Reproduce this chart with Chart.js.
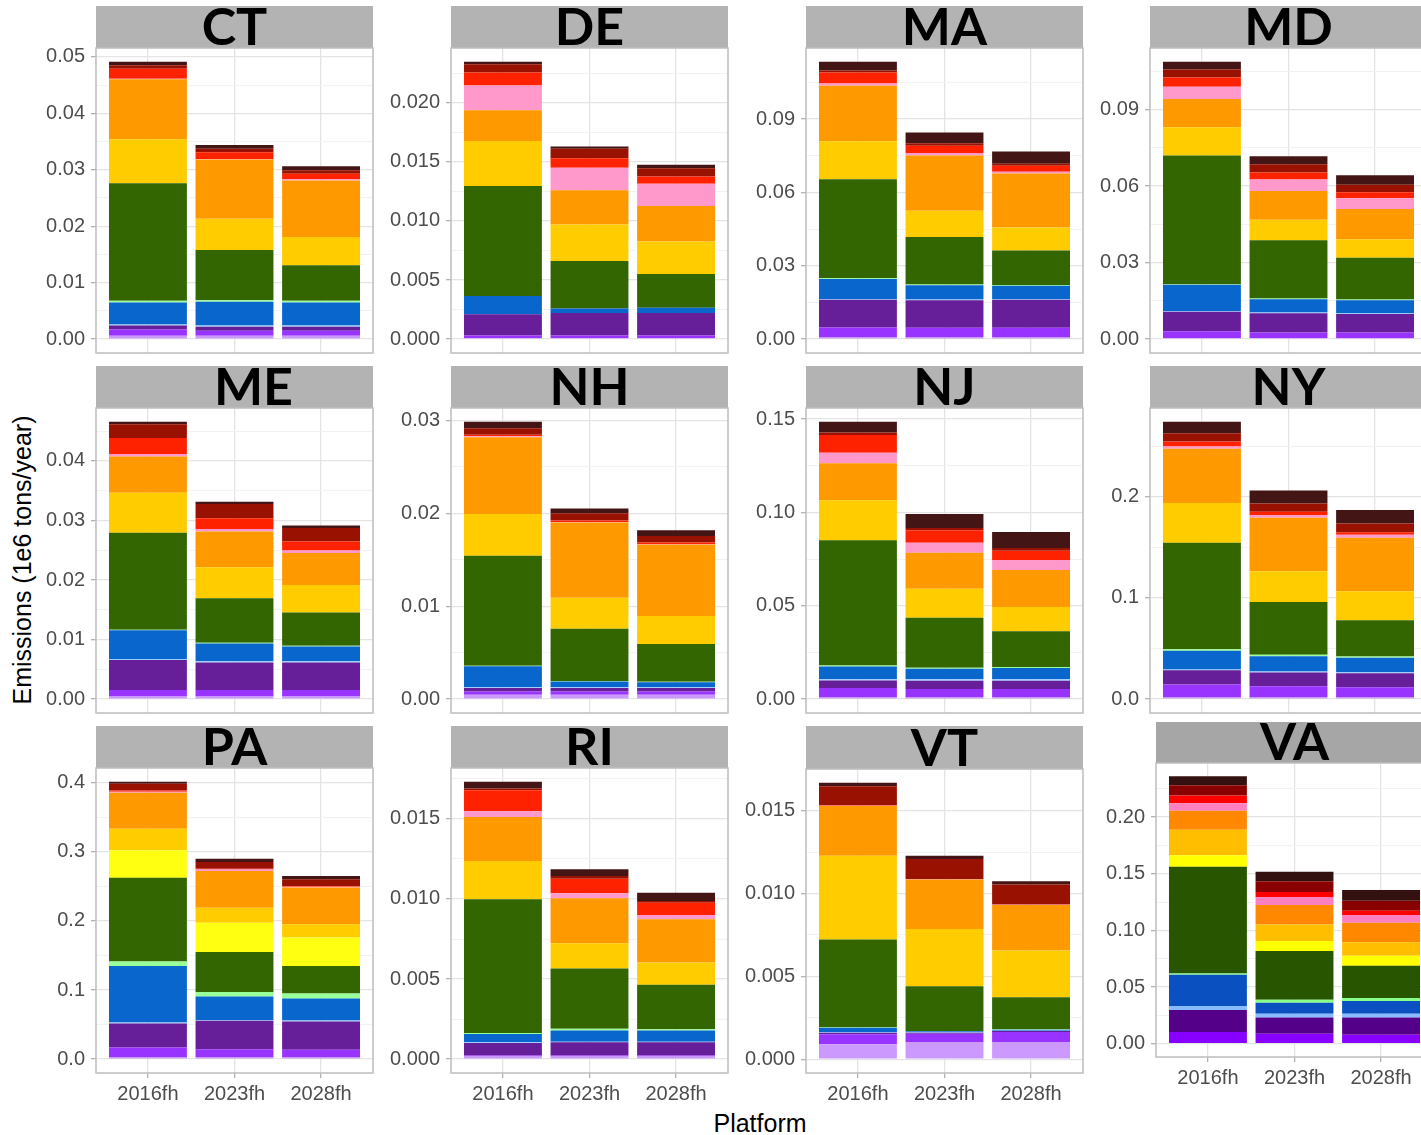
<!DOCTYPE html>
<html>
<head>
<meta charset="utf-8">
<script src="https://cdn.jsdelivr.net/npm/chart.js@4.4.1/dist/chart.umd.min.js"></script>
<style>
  body { margin: 0; width: 1421px; height: 1135px; overflow: hidden; background: #fff; position: relative; font-family: "Liberation Sans", Arial, sans-serif; }
  canvas { position: absolute; }
  .ytitle { position: absolute; left: 22px; top: 560px; transform: translate(-50%, -50%) rotate(-90deg); font-size: 25px; white-space: nowrap; color: #000; }
  .xtitle { position: absolute; left: 760px; top: 1123px; transform: translate(-50%, -50%); font-size: 25px; color: #000; }
</style>
</head>
<body>
<div class="ytitle">Emissions (1e6 tons/year)</div>
<div class="xtitle">Platform</div>
<script>
const platforms = ['2016fh', '2023fh', '2028fh'];
const states = ['CT', 'DE', 'MA', 'MD', 'ME', 'NH', 'NJ', 'NY', 'PA', 'RI', 'VT', 'VA'];

// stack order, bottom to top
const sectors = ['lavender', 'violet', 'purple', 'lightblue', 'blue', 'lightgreen', 'green',
                 'yellow', 'gold', 'orange', 'pink', 'red', 'darkred', 'maroon'];
const sectorColors = ['#cc99ff', '#9933ff', '#661f99', '#99ccff', '#0866cc', '#99ff99', '#336600',
                      '#ffff11', '#ffcc00', '#ff9900', '#ff99cc', '#ff2200', '#991100', '#441515'];
const vaColors = ['#cc99ff', '#8800ff', '#550088', '#88bbff', '#0a50c0', '#88ff88', '#285500',
                  '#ffff00', '#ffbf00', '#ff8800', '#ff80c0', '#ff0000', '#880000', '#331111'];

// one row per platform, values follow the sectors order
const CT = [
  [.0006, .0011, .0007, .0002, .0039, .0003, .0208, 0, .0078, .0106, .0001, .0018, .0006, .0006],
  [.0006, .0009, .0007, .0002, .0042, .0003, .0089, 0, .0055, .0105, .0001, .0012, .0006, .0007],
  [.0006, .0009, .0007, .0002, .0041, .0003, .0063, 0, .0050, .0100, .0002, .0010, .0006, .0007]
];
const DE = [
  [.0001, .0002, .0018, 0, .00155, 0, .0093, 0, .0038, .0026, .0021, .0011, .0007, .0002],
  [.0001, .0002, .0019, 0, .0004, 0, .0040, 0, .0031, .0029, .0019, .0008, .0008, .0002],
  [.0001, .0002, .0019, 0, .00045, 0, .00285, 0, .00275, .0030, .0019, .0006, .0007, .0003]
];
const MA = [
  [.0007, .0041, .0113, .0003, .0082, .0003, .0405, 0, .0155, .0227, .0010, .0045, .0008, .0035],
  [.0007, .0040, .0112, .0003, .0058, .0003, .0195, 0, .0107, .0226, .0010, .0030, .0010, .0044],
  [.0007, .0040, .0114, .0003, .0054, .0003, .0141, 0, .0095, .0220, .0008, .0024, .0008, .0050]
];
const MD = [
  [.0004, .0027, .0076, .0003, .0103, .0002, .0505, 0, .0111, .0110, .0048, .0037, .0031, .0030],
  [.0004, .0022, .0075, .0003, .0052, .0003, .0229, 0, .0080, .0113, .0045, .0027, .0033, .0031],
  [.0004, .0022, .0073, .0003, .0050, .0003, .0164, 0, .0073, .0118, .0042, .0024, .0029, .0037]
];
const ME = [
  [.00045, .0011, .0050, .0002, .0048, .0001, .0163, 0, .0067, .0061, .0004, .0027, .0023, .0004],
  [.00045, .0011, .0046, .0002, .0030, .0001, .0075, 0, .0052, .0060, .0004, .0018, .0024, .0004],
  [.00045, .0011, .0046, .0002, .0025, .0001, .0056, 0, .0046, .0054, .0004, .0015, .0023, .0004]
];
const NH = [
  [.00047, .00036, .00036, .0001, .00226, .00005, .01184, 0, .00449, .00828, .0001, .00015, .00072, .00068],
  [.00047, .00036, .00036, .0001, .00061, .00005, .00563, 0, .00334, .00811, .00005, .00015, .00079, .0005],
  [.00047, .00036, .00036, .0001, .00054, .00005, .00405, 0, .00301, .00772, .00005, .00015, .00072, .00061]
];
const NJ = [
  [.0009, .0050, .0041, .0007, .0068, .0005, .0671, 0, .0214, .0198, .0057, .0095, .0013, .0057],
  [.0009, .0045, .0045, .0007, .0057, .0005, .0268, 0, .0155, .0193, .0054, .0066, .0013, .0075],
  [.0009, .0045, .0045, .0007, .0061, .0005, .0191, 0, .0130, .0198, .0054, .0050, .0014, .0086]
];
const NY = [
  [.0016, .0128, .0142, .0007, .0185, .0016, .1051, 0, .0392, .0537, .0023, .0049, .0082, .0112],
  [.0016, .0112, .0135, .0010, .0152, .0013, .0521, 0, .0306, .0527, .0026, .0033, .0082, .0128],
  [.0016, .0102, .0138, .0010, .0142, .0013, .0359, 0, .0287, .0527, .0030, .0026, .0086, .0132]
];
const PA = [
  [.0024, .0145, .0347, .0014, .0819, .0063, .1214, .0395, .0313, .0520, .0014, .0019, .0096, .0029],
  [.0024, .0120, .0410, .0014, .0337, .0067, .0578, .0424, .0217, .0530, .0024, .0010, .0096, .0048],
  [.0024, .0111, .0410, .0014, .0318, .0072, .0400, .0410, .0193, .0530, .0014, .0010, .0096, .0048]
];
const RI = [
  [.00017, .00005, .00079, .00004, .00052, .00006, .00835, 0, .00239, .00274, .00037, .00131, .0001, .00042],
  [.00017, .00005, .00083, .00004, .00069, .00012, .00376, 0, .00158, .0028, .00031, .00091, .00017, .00042],
  [.00017, .00005, .00083, .00004, .00069, .00008, .00278, 0, .00139, .0027, .00027, .00077, .0001, .00052]
];
const VT = [
  [.0009, .0006, .0001, .00004, .00026, .00002, .0053, 0, .00506, .0030, .00002, .00002, .00116, .0002],
  [.0010, .00054, .00006, .00002, .00006, .00002, .0027, 0, .00346, .00298, .00002, .00002, .0012, .0002],
  [.0010, .00064, .00006, .00002, .00006, .00002, .00194, 0, .00282, .00274, .00002, .00002, .0012, .0002]
];
const VA = [
  [0, .0102, .0196, .0035, .0275, .0012, .0942, .0102, .0225, .0167, .0067, .0067, .0091, .0079],
  [0, .0088, .0143, .0032, .0099, .0026, .0430, .0088, .0146, .0173, .0070, .0044, .0094, .0085],
  [0, .0079, .0152, .0032, .0114, .0026, .0284, .0088, .0120, .0173, .0067, .0038, .0088, .0096]
];

// y axis break spacing and label decimals, per state (same order as states)
const yStep = [0.01, 0.005, 0.03, 0.03, 0.01, 0.01, 0.05, 0.1, 0.1, 0.005, 0.005, 0.05];
const yDigits = [2, 3, 2, 2, 2, 2, 2, 1, 1, 3, 3, 2];

const stateData = { CT, DE, MA, MD, ME, NH, NJ, NY, PA, RI, VT, VA };

// where each facet sits on the page (plot-area left, strip top)
const panelPos = [
  { x: 96, y: 6, sh: 42, ph: 305 }, { x: 451, y: 6, sh: 42, ph: 305 },
  { x: 806, y: 6, sh: 42, ph: 305 }, { x: 1150, y: 6, sh: 42, ph: 305 },
  { x: 96, y: 366, sh: 42, ph: 305, dx: 19 }, { x: 451, y: 366, sh: 42, ph: 305 },
  { x: 806, y: 366, sh: 42, ph: 305 }, { x: 1150, y: 366, sh: 42, ph: 305 },
  { x: 96, y: 726, sh: 42, ph: 305, bottom: true }, { x: 451, y: 726, sh: 42, ph: 305, bottom: true },
  { x: 806, y: 726, sh: 43, ph: 304, bottom: true }, { x: 1156, y: 722, sh: 41, ph: 294, bottom: true, strip: '#a6a6a6' }
];

const AXIS_W = 80;
const PLOT_W = 277;
const tickFont = { family: '"Liberation Sans", Arial, sans-serif', size: 20 };

Chart.defaults.font.family = '"Liberation Sans", Arial, sans-serif';

const stripPlugin = {
  id: 'strip',
  afterDraw(chart, args, o) {
    const { ctx, chartArea: a } = chart;
    ctx.save();
    ctx.fillStyle = o.fill;
    ctx.fillRect(a.left, a.top - o.h, a.right - a.left, o.h);
    ctx.strokeStyle = '#bdbdbd';
    ctx.lineWidth = 1.5;
    ctx.strokeRect(a.left, a.top, a.right - a.left, a.bottom - a.top);
    ctx.fillStyle = '#000';
    ctx.font = 'bold 52px Lato, "Liberation Sans", sans-serif';
    ctx.textAlign = 'center';
    ctx.textBaseline = 'alphabetic';
    ctx.fillText(o.text, (a.left + a.right) / 2 + (o.dx || 0), a.top - 3);
    ctx.restore();
  }
};

function makePanel(i) {
  const st = states[i];
  const rows = stateData[st];
  const pos = panelPos[i];
  const bottom = !!pos.bottom;
  const pal = st === 'VA' ? vaColors : sectorColors;

  const W = AXIS_W + PLOT_W + 2;
  const H = pos.sh + pos.ph + (bottom ? 50 : 2);
  const cv = document.createElement('canvas');
  cv.width = W; cv.height = H;
  cv.style.left = (pos.x - AXIS_W) + 'px';
  cv.style.top = pos.y + 'px';
  cv.style.width = W + 'px'; cv.style.height = H + 'px';
  document.body.appendChild(cv);

  const totals = rows.map(r => r.reduce((a, b) => a + b, 0));
  const top = Math.max(...totals);
  const yMin = -0.05 * top, yMax = 1.05 * top;
  const step = yStep[i];

  const yTicks = [];
  for (let k = 0; k * step <= yMax + 1e-12; k++) {
    yTicks.push({ value: +(k * step).toFixed(6) });
    const m = +((k + 0.5) * step).toFixed(6);
    if (m <= yMax) yTicks.push({ value: m, minor: true });
  }

  new Chart(cv, {
    type: 'bar',
    data: {
      datasets: sectors.map((name, k) => ({
        label: name,
        data: platforms.map((p, j) => ({ x: j + 1, y: rows[j][k] })),
        backgroundColor: pal[k],
        borderWidth: 0,
        stack: 'all',
        barPercentage: 0.9,
        categoryPercentage: 1
      }))
    },
    options: {
      responsive: false,
      animation: false,
      devicePixelRatio: 1,
      layout: { padding: { top: pos.sh, right: 2, bottom: bottom ? 0 : 2, left: 0 } },
      plugins: {
        legend: { display: false },
        tooltip: { enabled: false },
        strip: { text: st, h: pos.sh, fill: pos.strip || '#b3b3b3', dx: pos.dx || 0 }
      },
      scales: {
        x: {
          type: 'linear', min: 0.4, max: 3.6, offset: false,
          afterBuildTicks: s => { s.ticks = platforms.map((p, j) => ({ value: j + 1 })); },
          afterFit: s => { s.height = bottom ? 50 : 0; s.paddingLeft = 0; s.paddingRight = 0; },
          border: { display: false },
          grid: { offset: false, color: '#e4e4e4', lineWidth: 1.3, drawTicks: bottom, tickLength: 5, tickColor: '#b3b3b3', tickWidth: 1.3 },
          ticks: {
            display: bottom, autoSkip: false, maxRotation: 0, padding: 4,
            color: '#4d4d4d', font: tickFont,
            callback: v => platforms[Math.round(v) - 1]
          }
        },
        y: {
          stacked: true, min: yMin, max: yMax,
          afterBuildTicks: s => { s.ticks = yTicks.map(t => ({ ...t })); },
          afterFit: s => { s.width = AXIS_W; s.paddingTop = 0; s.paddingBottom = 0; },
          border: { display: false },
          grid: {
            color: c => (c.tick && c.tick.minor ? '#f2f2f2' : '#e4e4e4'),
            lineWidth: c => (c.tick && c.tick.minor ? 1 : 1.3),
            tickLength: 5,
            tickColor: c => (c.tick && c.tick.minor ? 'rgba(0,0,0,0)' : '#b3b3b3'),
            tickWidth: 1.3
          },
          ticks: {
            autoSkip: false, padding: 6, color: '#4d4d4d', font: tickFont,
            callback: (v, idx, ticks) => (ticks[idx].minor ? '' : Number(v).toFixed(yDigits[i]))
          }
        }
      }
    },
    plugins: [stripPlugin]
  });
}

states.forEach((s, i) => makePanel(i));
</script>
</body>
</html>
